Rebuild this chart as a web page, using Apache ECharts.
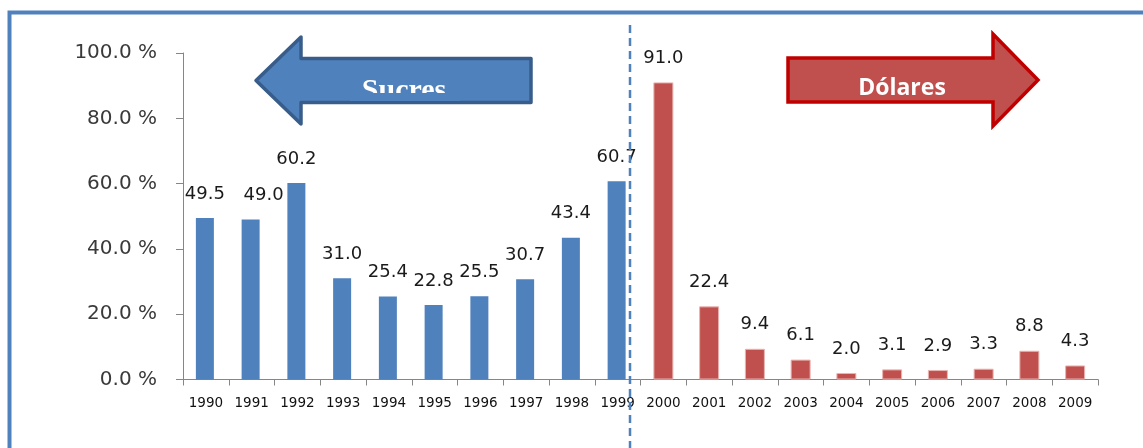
<!DOCTYPE html>
<html>
<head>
<meta charset="utf-8">
<script src="https://cdn.jsdelivr.net/npm/echarts@6/dist/echarts.min.js"></script>
<style>
  html, body { margin: 0; padding: 0; background: #fff; }
  #chart { width: 1143px; height: 448px; }
</style>
</head>
<body>
<div id="chart"></div>
<script>
// Years on the category axis
const years = ['1990', '1991', '1992', '1993', '1994', '1995', '1996', '1997', '1998', '1999',
               '2000', '2001', '2002', '2003', '2004', '2005', '2006', '2007', '2008', '2009'];
// Annual rate, sucre period (1990-1999)
const sucresValues = [49.5, 49.0, 60.2, 31.0, 25.4, 22.8, 25.5, 30.7, 43.4, 60.7];
// Annual rate, dollar period (2000-2009)
const dolaresValues = [91.0, 22.4, 9.4, 6.1, 2.0, 3.1, 2.9, 3.3, 8.8, 4.3];
// Y axis ticks
const yTicks = [0, 20, 40, 60, 80, 100];

const BLUE = '#4F81BD';
const RED = '#C0504D';

const pad = n => new Array(n).fill(null);
// a label nudged sideways so it does not collide with its neighbour
const labelShift = { '1991': [13, 0] };

const sucresData = sucresValues.map((v, i) => {
  const y = years[i];
  return labelShift[y] ? { value: v, label: { offset: labelShift[y] } } : v;
}).concat(pad(dolaresValues.length));
const dolaresData = pad(sucresValues.length).concat(dolaresValues);

const labelStyle = {
  show: true,
  position: 'top',
  distance: 15,
  fontFamily: 'DejaVu Sans',
  fontSize: 18,
  color: '#1a1a1a',
  formatter: p => (p.value == null ? '' : Number(p.value).toFixed(1))
};

const chart = echarts.init(document.getElementById('chart'), null, { renderer: 'canvas' });

chart.setOption({
  animation: false,
  backgroundColor: '#ffffff',
  grid: { left: 183, right: 45, top: 53, bottom: 68.5, containLabel: false },
  xAxis: {
    type: 'category',
    data: years,
    axisLine: { lineStyle: { color: '#868686', width: 1 } },
    axisTick: { show: true, interval: 0, length: 6, lineStyle: { color: '#868686' } },
    axisLabel: { interval: 0, margin: 17, fontFamily: 'DejaVu Sans', fontSize: 13.5, color: '#111' }
  },
  yAxis: {
    type: 'value',
    min: yTicks[0],
    max: yTicks[yTicks.length - 1],
    interval: yTicks[1] - yTicks[0],
    splitLine: { show: false },
    axisLine: { show: true, lineStyle: { color: '#868686', width: 1 } },
    axisTick: { show: true, length: 7, lineStyle: { color: '#868686' } },
    axisLabel: {
      margin: 26,
      fontFamily: 'DejaVu Sans',
      fontSize: 20,
      color: '#3a3a3a',
      formatter: v => v.toFixed(1) + ' %'
    }
  },
  series: [
    {
      name: 'Sucres',
      type: 'bar',
      data: sucresData,
      barWidth: 18,
      barGap: '-100%',
      itemStyle: { color: BLUE },
      label: labelStyle
    },
    {
      name: 'Dólares',
      type: 'bar',
      data: dolaresData,
      barWidth: 20,
      itemStyle: { color: RED, borderColor: '#E8B4B2', borderWidth: 1 },
      label: labelStyle
    }
  ],
  graphic: [
    // frame
    {
      type: 'rect', z: 1, silent: true,
      shape: { x: 9.5, y: 12.5, width: 1300, height: 600 },
      style: { fill: 'none', stroke: BLUE, lineWidth: 4 }
    },
    // divider between the two currency periods
    {
      type: 'line', z: 5, silent: true,
      shape: { x1: 630, y1: 25, x2: 630, y2: 448 },
      style: { stroke: BLUE, lineWidth: 2.5, lineDash: [8, 5] }
    },
    // left arrow
    {
      type: 'polygon', z: 10, silent: true,
      shape: { points: [[256, 80.5], [301, 37], [301, 58.5], [531, 58.5], [531, 102.5], [301, 102.5], [301, 124]] },
      style: { fill: BLUE, stroke: '#385D8A', lineWidth: 3.5, lineJoin: 'round' }
    },
    {
      type: 'text', z: 11, silent: true,
      style: {
        x: 404, y: 76, text: 'Sucres', align: 'center', verticalAlign: 'top',
        fontFamily: 'Liberation Serif', fontWeight: 'bold', fontSize: 30, fill: '#ffffff'
      }
    },
    {
      type: 'rect', z: 12, silent: true,
      shape: { x: 350, y: 93, width: 110, height: 8 },
      style: { fill: BLUE }
    },
    // right arrow
    {
      type: 'polygon', z: 10, silent: true,
      shape: { points: [[788, 58], [993, 58], [993, 34], [1038, 80], [993, 126], [993, 102], [788, 102]] },
      style: { fill: RED, stroke: '#C00000', lineWidth: 3.5, lineJoin: 'miter' }
    },
    {
      type: 'text', z: 11, silent: true,
      style: {
        x: 902, y: 88, text: 'Dólares', align: 'center', verticalAlign: 'middle',
        fontFamily: 'Open Sans', fontWeight: 'bold', fontSize: 23, fill: '#ffffff'
      }
    }
  ]
});
</script>
</body>
</html>
